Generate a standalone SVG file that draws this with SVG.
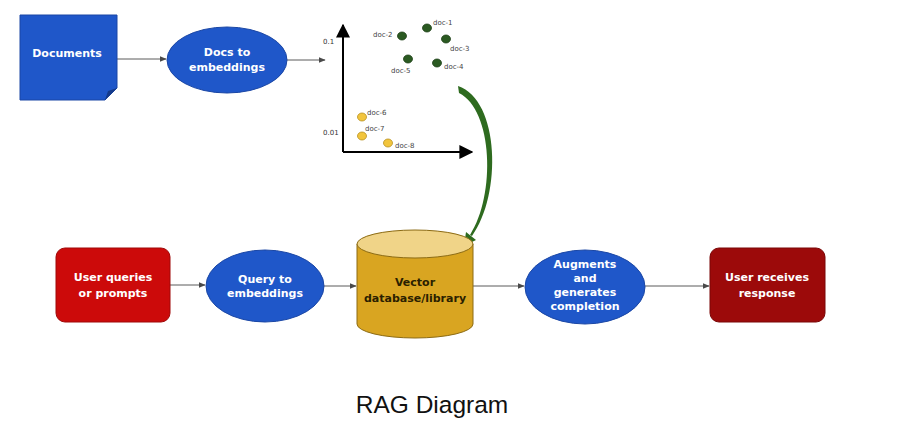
<svg xmlns="http://www.w3.org/2000/svg" width="909" height="421" viewBox="0 0 909 421">
<defs>
<style>
.lbl{font-family:"DejaVu Sans",Verdana,sans-serif;font-weight:bold;fill:#fff;text-anchor:middle;font-size:11px}
.dl{font-family:"DejaVu Sans",sans-serif;font-size:7px;fill:#444}
.ax{font-family:"DejaVu Sans",sans-serif;font-size:7px;fill:#333}
.con{stroke:#5a5a5a;stroke-width:1;fill:none;marker-end:url(#ah)}
.blue{fill:#1f57c9;stroke:#1b47a5;stroke-width:1}
.g{fill:#2b5a22;stroke:#1d3f17;stroke-width:0.8}
.y{fill:#f2c53d;stroke:#b8901f;stroke-width:0.8}
</style>
<marker id="ah" viewBox="0 0 10 10" refX="9" refY="5" markerWidth="7" markerHeight="7" markerUnits="userSpaceOnUse" orient="auto"><path d="M0,1 L10,5 L0,9 Z" fill="#4a4a4a"/></marker>
<marker id="bk" viewBox="0 0 10 10" refX="9" refY="5" markerWidth="14" markerHeight="14" markerUnits="userSpaceOnUse" orient="auto"><path d="M0,0 L10,5 L0,10 Z" fill="#000"/></marker>
</defs>
<rect width="909" height="421" fill="#fff"/>
<g id="connectors">
<line class="con" x1="117" y1="59" x2="166" y2="59"/>
<line class="con" x1="287" y1="60" x2="325" y2="60"/>
<line class="con" x1="170" y1="285" x2="205" y2="285"/>
<line class="con" x1="323" y1="286" x2="356" y2="286"/>
<line class="con" x1="473" y1="286" x2="524" y2="286"/>
<line class="con" x1="645" y1="286" x2="709" y2="286"/>
<path d="M458,86 C500,100 502,195 472,236 L470,235 C496,195 493,110 459,93 Z" fill="#2e6b1f"/>
<path d="M464,246 L466,232 L476,240 Z" fill="#2e6b1f"/>
</g>
<g id="documents">
<path d="M20,15 H117 V88 L105,100 H20 Z" class="blue"/>
<path d="M117,88 L105,100 L108,91 Z" fill="#153a8a"/>
<text class="lbl" x="67" y="57" font-size="12">Documents</text>
</g>
<g id="docs-to-embeddings">
<ellipse cx="227" cy="60" rx="60" ry="33" class="blue"/>
<text class="lbl" x="227" y="56">Docs to</text>
<text class="lbl" x="227" y="71">embeddings</text>
</g>
<g id="chart">
<line x1="343" y1="152" x2="343" y2="25" stroke="#000" stroke-width="2" marker-end="url(#bk)"/>
<line x1="343" y1="152" x2="472" y2="152" stroke="#000" stroke-width="2" marker-end="url(#bk)"/>
<text class="ax" x="323" y="44">0.1</text>
<text class="ax" x="323" y="135">0.01</text>
<ellipse class="g" cx="402" cy="36" rx="4.5" ry="4"/>
<ellipse class="g" cx="427" cy="28" rx="4.5" ry="4"/>
<ellipse class="g" cx="446" cy="39" rx="4.5" ry="4"/>
<ellipse class="g" cx="408" cy="59" rx="4.5" ry="4"/>
<ellipse class="g" cx="437" cy="63" rx="4.5" ry="4"/>
<ellipse class="y" cx="362" cy="117" rx="4.5" ry="4"/>
<ellipse class="y" cx="362" cy="136" rx="4.5" ry="4"/>
<ellipse class="y" cx="388" cy="143" rx="4.5" ry="4"/>
<text class="dl" x="373" y="37">doc-2</text>
<text class="dl" x="433" y="25">doc-1</text>
<text class="dl" x="450" y="51">doc-3</text>
<text class="dl" x="391" y="73">doc-5</text>
<text class="dl" x="444" y="69">doc-4</text>
<text class="dl" x="367" y="115">doc-6</text>
<text class="dl" x="365" y="131">doc-7</text>
<text class="dl" x="395" y="148">doc-8</text>
</g>
<g id="user-queries">
<rect x="56" y="248" width="114" height="74" rx="9" fill="#cc0a0a" stroke="#a00808" stroke-width="1"/>
<text class="lbl" x="113" y="281" font-size="12">User queries</text>
<text class="lbl" x="113" y="297" font-size="12">or prompts</text>
</g>
<g id="query-to-embeddings">
<ellipse cx="265" cy="286" rx="59" ry="36" class="blue"/>
<text class="lbl" x="265" y="283">Query to</text>
<text class="lbl" x="265" y="297">embeddings</text>
</g>
<g id="vector-db">
<path d="M357,244 V324 A58,14 0 0 0 473,324 V244 Z" fill="#d9a521" stroke="#8c6b14" stroke-width="1"/>
<ellipse cx="415" cy="244" rx="58" ry="14" fill="#f0d488" stroke="#8c6b14" stroke-width="1"/>
<text class="lbl" x="415" y="286" style="fill:#2a2000">Vector</text>
<text class="lbl" x="415" y="302" style="fill:#2a2000">database/library</text>
</g>
<g id="augments">
<ellipse cx="585" cy="287" rx="60" ry="37" class="blue"/>
<text class="lbl" x="585" y="268">Augments</text>
<text class="lbl" x="585" y="282">and</text>
<text class="lbl" x="585" y="296">generates</text>
<text class="lbl" x="585" y="310">completion</text>
</g>
<g id="user-receives">
<rect x="710" y="248" width="115" height="74" rx="9" fill="#9c0a0a" stroke="#7a0606" stroke-width="1"/>
<text class="lbl" x="767" y="281" font-size="12">User receives</text>
<text class="lbl" x="767" y="297" font-size="12">response</text>
</g>
<text x="432" y="413" font-family="Liberation Sans,Arial,sans-serif" font-size="24.5" text-anchor="middle" fill="#111">RAG Diagram</text>
</svg>
